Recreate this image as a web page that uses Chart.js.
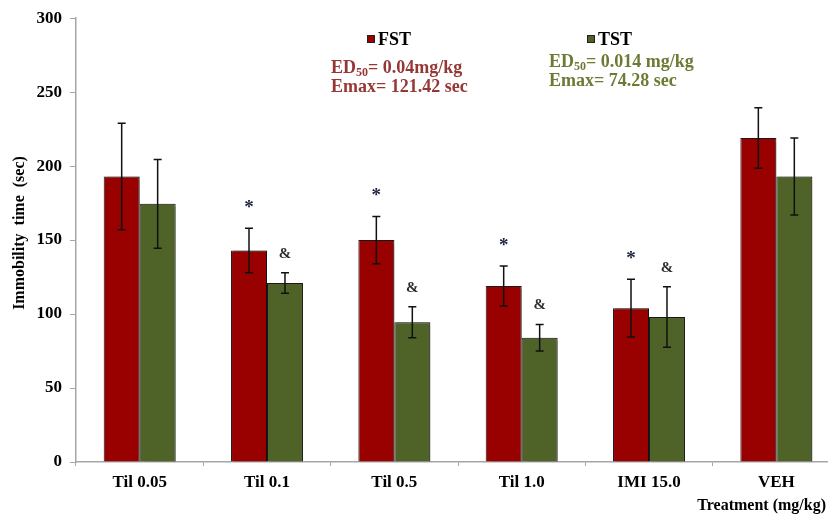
<!DOCTYPE html>
<html>
<head>
<meta charset="utf-8">
<style>
  html, body { margin: 0; padding: 0; background: #fff; overflow: hidden; }
  #wrap { width: 828px; height: 517px; overflow: hidden; }
  canvas { display: block; }
</style>
<script src="https://cdn.jsdelivr.net/npm/chart.js@4"></script>
</head>
<body>
<div id="wrap"><canvas id="immobility" width="842" height="517"></canvas></div>
<script>
const treatments = ["Til 0.05", "Til 0.1", "Til 0.5", "Til 1.0", "IMI 15.0", "VEH"];
const fstMeans = [193, 143, 150, 119, 104, 219];
const fstSem = [36, 15, 16, 13.5, 19.5, 20.5];
const tstMeans = [174.5, 121, 94.5, 84, 98, 193];
const tstSem = [30, 7, 10.5, 9, 20.5, 26];
const fstMarks = ["", "*", "*", "*", "*", ""];
const tstMarks = ["", "&", "&", "&", "&", ""];
const yTicks = [0, 50, 100, 150, 200, 250, 300];

const FST_RED = "#990000";
const TST_GREEN = "#4f6228";
const SERIF = "'Liberation Serif', 'Times New Roman', serif";

// error bars, significance marks, legend and notes
const decorations = {
  id: "decorations",
  beforeDatasetsDraw(chart) {
    const ctx = chart.ctx;
    ctx.save();
    ctx.shadowColor = "rgba(0,0,0,0.28)";
    ctx.shadowOffsetX = 2;
    ctx.shadowOffsetY = 0;
    ctx.shadowBlur = 1;
  },
  afterDatasetsDraw(chart) {
    const ctx = chart.ctx;
    ctx.restore();
    const y = chart.scales.y;
    const sems = [fstSem, tstSem];
    const marks = [fstMarks, tstMarks];
    chart.data.datasets.forEach((ds, di) => {
      const meta = chart.getDatasetMeta(di);
      meta.data.forEach((bar, i) => {
        const v = ds.data[i];
        const top = y.getPixelForValue(v + sems[di][i]);
        const bot = y.getPixelForValue(v - sems[di][i]);
        ctx.save();
        ctx.strokeStyle = "#111";
        ctx.lineWidth = 1.5;
        ctx.beginPath();
        ctx.moveTo(bar.x, top);
        ctx.lineTo(bar.x, bot);
        ctx.moveTo(bar.x - 4, top);
        ctx.lineTo(bar.x + 4, top);
        ctx.moveTo(bar.x - 4, bot);
        ctx.lineTo(bar.x + 4, bot);
        ctx.stroke();
        const m = marks[di][i];
        if (m) {
          ctx.textAlign = "center";
          ctx.textBaseline = "alphabetic";
          if (m === "*") {
            ctx.font = "bold 19px " + SERIF;
            ctx.fillStyle = "#1c2340";
            ctx.fillText(m, bar.x, top - 24 + 9);
          } else {
            ctx.font = "bold 15px " + SERIF;
            ctx.fillStyle = "#2b2b2b";
            ctx.fillText(m, bar.x, top - 20 + 5);
          }
        }
        ctx.restore();
      });
    });
  },
  afterDraw(chart) {
    const ctx = chart.ctx;
    ctx.save();
    // legend
    const legendPos = [[367, 39], [587, 39]];
    chart.data.datasets.forEach((ds, di) => {
      const [lx, ly] = legendPos[di];
      ctx.fillStyle = ds.backgroundColor;
      ctx.fillRect(lx, ly - 4, 8, 8);
      ctx.strokeStyle = "#222";
      ctx.lineWidth = 1;
      ctx.strokeRect(lx + 0.5, ly - 3.5, 7, 7);
      ctx.fillStyle = "#000";
      ctx.font = "bold 18px " + SERIF;
      ctx.textAlign = "left";
      ctx.textBaseline = "middle";
      ctx.fillText(ds.label, lx + 11, ly + 1);
    });

    // ED50 / Emax notes
    function note(x, y, color, dose) {
      ctx.fillStyle = color;
      ctx.textAlign = "left";
      ctx.textBaseline = "alphabetic";
      ctx.font = "bold 18px " + SERIF;
      ctx.fillText("ED", x, y);
      let w = ctx.measureText("ED").width;
      ctx.font = "bold 12px " + SERIF;
      ctx.fillText("50", x + w, y + 3);
      w += ctx.measureText("50").width;
      ctx.font = "bold 18px " + SERIF;
      ctx.fillText("= " + dose, x + w, y);
    }
    note(331, 73, "#953735", "0.04mg/kg");
    ctx.fillText("Emax= 121.42 sec", 331, 92);
    note(549, 67, "#6b7b35", "0.014 mg/kg");
    ctx.fillText("Emax= 74.28 sec", 549, 86);

    // axis titles
    ctx.fillStyle = "#000";
    ctx.font = "bold 16px " + SERIF;
    ctx.textAlign = "right";
    ctx.textBaseline = "middle";
    ctx.fillText("Treatment (mg/kg)", 826, 506);
    ctx.translate(20, 233);
    ctx.rotate(-Math.PI / 2);
    ctx.textAlign = "center";
    ctx.fillText("Immobility  time  (sec)", 0, 0);
    ctx.restore();
  }
};

const ctx = document.getElementById("immobility").getContext("2d");
new Chart(ctx, {
  type: "bar",
  data: {
    labels: treatments,
    datasets: [
      {
        label: "FST",
        data: fstMeans,
        backgroundColor: FST_RED,
        borderColor: "#1a1a1a",
        borderWidth: 1,
        barPercentage: 1,
        categoryPercentage: 0.565,
      },
      {
        label: "TST",
        data: tstMeans,
        backgroundColor: TST_GREEN,
        borderColor: "#1a1a1a",
        borderWidth: 1,
        barPercentage: 1,
        categoryPercentage: 0.565,
      },
    ],
  },
  options: {
    responsive: false,
    animation: false,
    devicePixelRatio: 1,
    layout: { padding: { top: 17, right: 2, left: 0, bottom: 0 } },
    plugins: {
      legend: { display: false },
      tooltip: { enabled: false },
    },
    scales: {
      x: {
        grid: {
          display: true,
          drawOnChartArea: false,
          drawTicks: true,
          tickLength: 4,
          color: "#a6a6a6",
          lineWidth: 1,
        },
        border: { color: "#a6a6a6", width: 1.5 },
        ticks: {
          color: "#000",
          font: { family: SERIF, size: 17, weight: "bold" },
          padding: 6,
          maxRotation: 0,
        },
        afterFit(scale) {
          scale.height = 55;
        },
      },
      y: {
        min: 0,
        max: 300,
        afterBuildTicks(scale) {
          scale.ticks = yTicks.map((v) => ({ value: v }));
        },
        grid: {
          display: true,
          drawOnChartArea: false,
          drawTicks: true,
          tickLength: 6,
          color: "#a6a6a6",
          lineWidth: 1,
        },
        border: { color: "#a6a6a6", width: 1.5 },
        ticks: {
          color: "#000",
          font: { family: SERIF, size: 17, weight: "bold" },
          padding: 8,
        },
        afterFit(scale) {
          scale.width = 76;
        },
      },
    },
  },
  plugins: [decorations],
});
</script>
</body>
</html>
